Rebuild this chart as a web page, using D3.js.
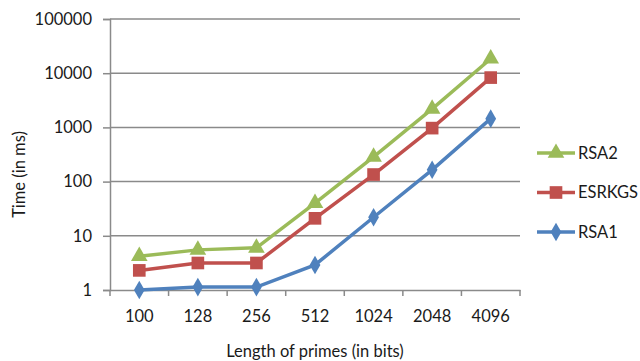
<!DOCTYPE html>
<html>
<head>
<meta charset="utf-8">
<script src="https://cdn.jsdelivr.net/npm/d3@7"></script>
<style>
  body { margin: 0; background: #fff; }
  text { font-family: Lato, "Liberation Sans", Arial, sans-serif; fill: #1a1a1a; }
</style>
</head>
<body>
<svg id="chart" width="640" height="361"></svg>
<script>
// data
const categories = ['100', '128', '256', '512', '1024', '2048', '4096'];
const rsa2 = [4.2, 5.5, 6.0, 40, 285, 2200, 18500];
const esrkgs = [2.3, 3.15, 3.15, 21, 135, 970, 8300];
const rsa1 = [1.0, 1.13, 1.13, 2.9, 22, 165, 1450];
const yTicks = [1, 10, 100, 1000, 10000, 100000];

const series = [
  {name: 'RSA2', values: rsa2, color: '#9bbb59', marker: 'triangle'},
  {name: 'ESRKGS', values: esrkgs, color: '#c0504d', marker: 'square'},
  {name: 'RSA1', values: rsa1, color: '#4f81bd', marker: 'diamond'}
];

const FONT = 'Lato, "Liberation Sans", Arial, sans-serif';

const svg = d3.select('#chart'),
  margin = {top: 19, right: 120, bottom: 71, left: 110},
  width = +svg.attr('width') - margin.left - margin.right,
  height = +svg.attr('height') - margin.top - margin.bottom;

const x = d3.scaleBand().domain(categories).range([0, width]),
  y = d3.scaleLog().domain([1, 100000]).range([height, 0]);

const g = svg.append('g')
  .attr('transform', 'translate(' + margin.left + ',' + margin.top + ')');

// gridlines
g.append('g')
  .selectAll('line')
  .data(yTicks.slice(1))
  .enter().append('line')
  .attr('x1', 0).attr('x2', width)
  .attr('y1', d => y(d)).attr('y2', d => y(d))
  .attr('stroke', '#8a8a8a').attr('stroke-width', 1.5);

// y axis
const yAxis = g.append('g')
  .call(d3.axisLeft(y).tickValues(yTicks).tickFormat(d3.format('d')).tickSize(7).tickPadding(11));
yAxis.select('.domain').attr('stroke', '#8a8a8a').attr('stroke-width', 1.5);
yAxis.selectAll('.tick line').attr('stroke', '#8a8a8a').attr('stroke-width', 1.5);
yAxis.selectAll('text').attr('font-size', 16.5).attr('fill', '#1a1a1a').style('font-family', FONT);

// x axis, ticks on band edges
const xAxis = g.append('g')
  .attr('transform', 'translate(0,' + height + ')')
  .call(d3.axisBottom(x).tickSize(0).tickPadding(20));
xAxis.select('.domain').attr('stroke', '#8a8a8a').attr('stroke-width', 1.5);
xAxis.selectAll('text').attr('font-size', 16.5).attr('fill', '#1a1a1a').style('font-family', FONT);
xAxis.selectAll('.edge')
  .data(d3.range(categories.length + 1))
  .enter().append('line')
  .attr('x1', i => i * x.step()).attr('x2', i => i * x.step())
  .attr('y1', 0).attr('y2', 6)
  .attr('stroke', '#8a8a8a').attr('stroke-width', 1.5);

// axis titles
svg.append('text')
  .attr('transform', 'translate(25,' + (margin.top + height / 2 + 20) + ') rotate(-90)')
  .attr('text-anchor', 'middle')
  .attr('font-size', 16.5)
  .text('Time (in ms)');

svg.append('text')
  .attr('x', margin.left + width / 2)
  .attr('y', 357)
  .attr('text-anchor', 'middle')
  .attr('font-size', 16.5)
  .text('Length of primes (in bits)');

function markerPath(type) {
  if (type === 'triangle') return d3.symbol(d3.symbolTriangle, 120)();
  if (type === 'square') return d3.symbol(d3.symbolSquare, 160)();
  return d3.symbol(d3.symbolDiamond, 100)();
}

const line = d3.line()
  .x((d, i) => x(categories[i]) + x.bandwidth() / 2)
  .y(d => y(d));

// draw in reverse so RSA2 is on top like the original
series.slice().reverse().forEach(function (s) {
  g.append('path')
    .datum(s.values)
    .attr('fill', 'none')
    .attr('stroke', s.color)
    .attr('stroke-width', 3.5)
    .attr('d', line);

  g.selectAll('.m-' + s.marker)
    .data(s.values)
    .enter().append('path')
    .attr('class', 'm-' + s.marker)
    .attr('transform', (d, i) => 'translate(' + (x(categories[i]) + x.bandwidth() / 2) + ',' + y(d) + ')')
    .attr('d', markerPath(s.marker))
    .attr('fill', s.color);
});

// legend
const legend = svg.append('g').attr('transform', 'translate(537,153)');
series.forEach(function (s, i) {
  const row = legend.append('g').attr('transform', 'translate(0,' + (i * 39.5) + ')');
  row.append('line')
    .attr('x1', 0).attr('x2', 38)
    .attr('stroke', s.color).attr('stroke-width', 3.5);
  row.append('path')
    .attr('transform', 'translate(19,0)')
    .attr('d', markerPath(s.marker))
    .attr('fill', s.color);
  row.append('text')
    .attr('x', 41).attr('dy', '0.35em')
    .attr('font-size', 16.5)
    .text(s.name);
});
</script>
</body>
</html>
